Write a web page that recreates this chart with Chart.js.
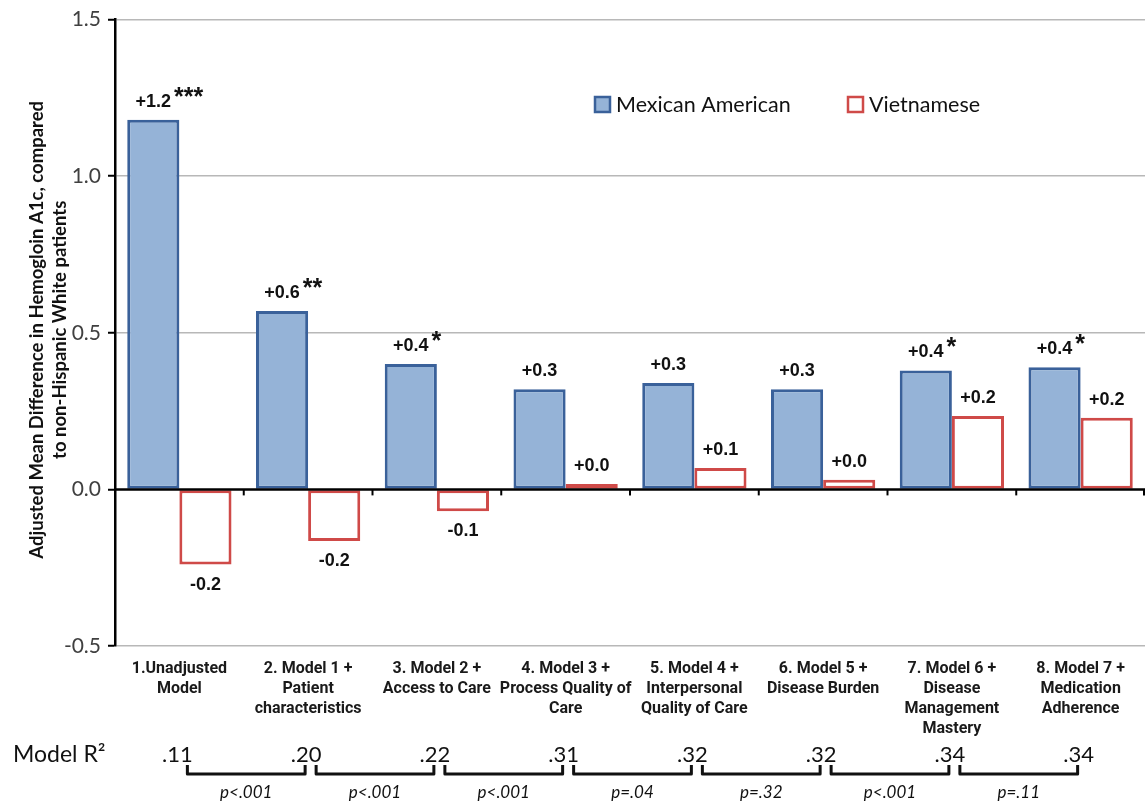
<!DOCTYPE html>
<html>
<head>
<meta charset="utf-8">
<script src="https://cdn.jsdelivr.net/npm/chart.js@4.4.1/dist/chart.umd.min.js"></script>
<style>
  body { margin: 0; background: #fff; }
  #wrap { width: 1145px; height: 801px; position: relative; }
</style>
</head>
<body>
<div id="wrap"><canvas id="a1cChart"></canvas></div>
<script>
// data
const categories = [
  ['1.Unadjusted', 'Model'],
  ['2. Model 1 +', 'Patient', 'characteristics'],
  ['3. Model 2 +', 'Access to Care'],
  ['4. Model 3 +', 'Process Quality of', 'Care'],
  ['5. Model 4 +', 'Interpersonal', 'Quality of Care'],
  ['6. Model 5 +', 'Disease Burden'],
  ['7. Model 6 +', 'Disease', 'Management', 'Mastery'],
  ['8. Model 7 +', 'Medication', 'Adherence']
];
const mexicanAmerican = [1.18, 0.57, 0.40, 0.32, 0.34, 0.32, 0.38, 0.39];
const vietnamese = [-0.24, -0.165, -0.07, 0.017, 0.068, 0.031, 0.234, 0.229];
const mexicanStars = ['***', '**', '*', '', '', '', '*', '*'];
const vietnameseStars = ['', '', '', '', '', '', '', ''];
const modelR2 = ['.11', '.20', '.22', '.31', '.32', '.32', '.34', '.34'];
const pValues = ['p<.001', 'p<.001', 'p<.001', 'p=.04', 'p=.32', 'p<.001', 'p=.11'];
const yTicks = [-0.5, 0, 0.5, 1.0, 1.5];
const yTitle = ['Adjusted Mean Difference in Hemogloin A1c, compared', 'to non-Hispanic White patients'];

const CALIBRI = 'Lato, "Open Sans", sans-serif';
const ARIAL = '"Liberation Sans", Arial, sans-serif';
const NARROW = 'Roboto, "Liberation Sans", sans-serif';

const fmt = v => (v >= 0 ? '+' : '') + v.toFixed(1);

const extras = {
  id: 'extras',
  afterDatasetsDraw(chart) {
    const { ctx, chartArea: area, scales: { x, y } } = chart;
    const y0 = y.getPixelForValue(0);

    // x axis crosses at zero
    ctx.save();
    ctx.strokeStyle = '#000';
    ctx.lineWidth = 2.5;
    ctx.beginPath();
    ctx.moveTo(area.left, y0);
    ctx.lineTo(area.right, y0);
    ctx.stroke();
    ctx.lineWidth = 2;
    for (let i = 1; i <= categories.length; i++) {
      const xb = Math.min(x.getPixelForValue(i - 0.5), area.right - 1);
      ctx.beginPath();
      ctx.moveTo(xb, y0);
      ctx.lineTo(xb, y0 + 6);
      ctx.stroke();
    }

    // value labels + significance stars
    const starSets = [mexicanStars, vietnameseStars];
    chart.data.datasets.forEach((ds, di) => {
      chart.getDatasetMeta(di).data.forEach((bar, i) => {
        const v = ds.data[i];
        const txt = fmt(v);
        const ty = v >= 0 ? bar.y - 18 : bar.y + 20;
        ctx.font = 'bold 18px ' + ARIAL;
        ctx.fillStyle = '#111';
        ctx.textAlign = 'center';
        ctx.textBaseline = 'middle';
        ctx.fillText(txt, bar.x, ty);
        const stars = starSets[di][i];
        if (stars) {
          const w = ctx.measureText(txt).width;
          ctx.textAlign = 'left';
          ctx.textBaseline = 'alphabetic';
          ctx.font = 'bold 25px ' + ARIAL;
          ctx.fillText(stars, bar.x + w / 2 + 3, ty + 3);
        }
      });
    });
    ctx.restore();
  },
  afterDraw(chart) {
    const { ctx, chartArea: area, scales: { x } } = chart;
    ctx.save();

    // legend
    const legendX = [594, 847];
    chart.data.datasets.forEach((ds, di) => {
      const lx = legendX[di];
      ctx.fillStyle = ds.backgroundColor;
      ctx.strokeStyle = ds.borderColor;
      ctx.lineWidth = 2.5;
      ctx.fillRect(lx + 1, 97, 15, 15);
      ctx.strokeRect(lx + 1, 97, 15, 15);
      ctx.font = '21.5px ' + CALIBRI;
      ctx.fillStyle = '#111';
      ctx.textAlign = 'left';
      ctx.textBaseline = 'middle';
      ctx.fillText(ds.label, lx + 22, 105);
    });

    // y axis title
    ctx.save();
    ctx.translate(49, (area.top + area.bottom) / 2 - 3);
    ctx.rotate(-Math.PI / 2);
    ctx.font = 'bold 18.5px ' + CALIBRI;
    ctx.fillStyle = '#111';
    ctx.textAlign = 'center';
    ctx.textBaseline = 'middle';
    ctx.fillText(yTitle[0], 0, -11.5);
    ctx.fillText(yTitle[1], 0, 11.5);
    ctx.restore();

    // Model R2 row
    ctx.fillStyle = '#111';
    ctx.textBaseline = 'middle';
    ctx.font = '23px ' + CALIBRI;
    ctx.textAlign = 'left';
    ctx.fillText('Model R\u00B2', 13, 755);
    ctx.font = '22px ' + CALIBRI;
    ctx.textAlign = 'center';
    const cx = modelR2.map((_, i) => x.getPixelForValue(i) - 2);
    modelR2.forEach((r, i) => ctx.fillText(r, cx[i], 755));

    // brackets and p values
    ctx.strokeStyle = '#111';
    ctx.lineWidth = 3;
    ctx.lineJoin = 'round';
    pValues.forEach((p, i) => {
      const x1 = cx[i] + 10, x2 = cx[i + 1] - 1;
      ctx.beginPath();
      ctx.moveTo(x1, 765);
      ctx.lineTo(x1, 774);
      ctx.lineTo(x2, 774);
      ctx.lineTo(x2, 765);
      ctx.stroke();
      ctx.font = 'italic 17px ' + CALIBRI;
      ctx.fillText(p, (x1 + x2) / 2, 793);
    });
    ctx.restore();
  }
};

new Chart(document.getElementById('a1cChart'), {
  type: 'bar',
  data: {
    labels: categories,
    datasets: [
      {
        label: 'Mexican American',
        data: mexicanAmerican,
        backgroundColor: '#95b3d7',
        borderColor: '#3a619a',
        borderWidth: 3,
        borderSkipped: false
      },
      {
        label: 'Vietnamese',
        data: vietnamese,
        backgroundColor: '#ffffff',
        borderColor: '#cf4a48',
        borderWidth: 3,
        borderSkipped: false
      }
    ]
  },
  options: {
    responsive: true,
    maintainAspectRatio: false,
    animation: false,
    layout: { padding: { top: 18, right: 0, left: 0, bottom: 0 } },
    datasets: { bar: { categoryPercentage: 0.81, barPercentage: 1 } },
    plugins: {
      legend: { display: false },
      tooltip: { enabled: false }
    },
    scales: {
      x: {
        grid: { display: false, drawTicks: false },
        border: { display: false },
        ticks: {
          color: '#1a1a1a',
          font: { family: NARROW, size: 16, weight: 'bold', lineHeight: 1.25 },
          padding: 13,
          maxRotation: 0,
          autoSkip: false
        },
        afterFit: s => { s.height = 155; }
      },
      y: {
        min: -0.5,
        max: 1.5,
        afterBuildTicks: s => { s.ticks = yTicks.map(v => ({ value: v })); },
        ticks: {
          callback: v => v.toFixed(1),
          color: '#404040',
          font: { family: CALIBRI, size: 21 },
          padding: 7
        },
        grid: {
          color: c => (c.tick && c.tick.value === 0 ? 'rgba(0,0,0,0)' : '#b8b8b8'),
          lineWidth: 1.5,
          tickColor: '#000',
          tickLength: 7,
          tickWidth: 2
        },
        border: { color: '#000', width: 2.5 },
        afterFit: s => { s.width = 115; }
      }
    }
  },
  plugins: [extras]
});
</script>
</body>
</html>
